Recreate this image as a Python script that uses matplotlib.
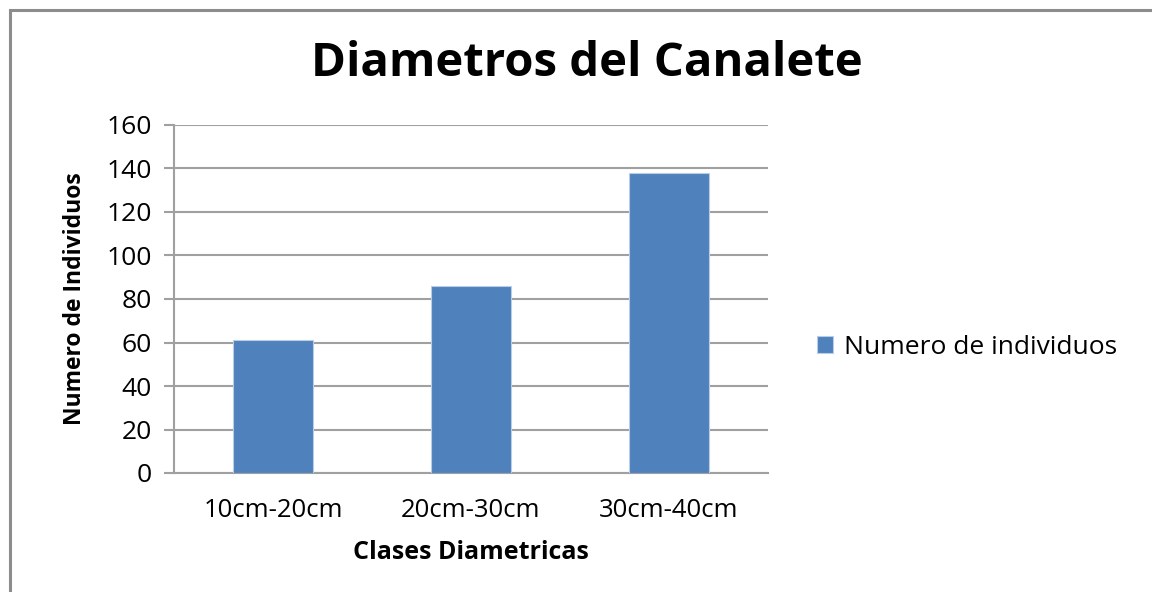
import matplotlib
matplotlib.use("Agg")
import matplotlib.pyplot as plt
from matplotlib.patches import Rectangle

categories = ["10cm-20cm", "20cm-30cm", "30cm-40cm"]
values = [61, 86, 138]
yticks = [0, 20, 40, 60, 80, 100, 120, 140, 160]
series_name = "Numero de individuos"

W, H = 1152, 592
fig = plt.figure(figsize=(W / 100, H / 100), dpi=100)
plt.rcParams['font.family'] = ['Open Sans', 'DejaVu Sans']

# outer border (chart frame, cut at right/bottom)
fig.patches.append(Rectangle((10 / W, -0.1), 1.2, (H - 10) / H + 0.1,
                             transform=fig.transFigure, fill=False,
                             edgecolor="#8c8c8c", linewidth=2.2))

left, right, bottom, top = 174, 768, 473, 125
ax = fig.add_axes([left / W, 1 - bottom / H, (right - left) / W, (bottom - top) / H])

x = list(range(len(categories)))
ax.bar(x, values, width=0.4, color="#4f81bd", edgecolor="#b9cde5", linewidth=0.8,
       zorder=3, label=series_name)
ax.set_xlim(-0.5, len(categories) - 0.5)
ax.set_ylim(0, 160)
ax.set_yticks(yticks)
ax.set_xticks(x)
ax.set_xticklabels(categories)
ax.grid(axis="y", color="#a0a0a0", linewidth=1.5, zorder=0)
for s in ["top", "right"]:
    ax.spines[s].set_visible(False)
for s in ["left", "bottom"]:
    ax.spines[s].set_color("#a0a0a0")
    ax.spines[s].set_linewidth(1.5)
ax.tick_params(axis="y", length=7, width=1.5, color="#a0a0a0", labelsize=19, pad=9)
ax.tick_params(axis="x", length=0, labelsize=18.5, pad=18)

ax.set_xlabel("Clases Diametricas", fontsize=18, fontweight="bold", labelpad=12)
ax.set_ylabel("Numero de Individuos", fontsize=16.5, fontweight="bold", labelpad=14)

fig.text(587 / W, 1 - 63 / H, "Diametros del Canalete", fontsize=34, fontweight="bold",
         ha="center", va="center")

leg = fig.legend(loc="center left", bbox_to_anchor=(793 / W, 1 - 347 / H), frameon=False,
                 fontsize=19, handlelength=0.6, handleheight=0.6, handletextpad=0.45)

fig.savefig("out.png", dpi=100)
